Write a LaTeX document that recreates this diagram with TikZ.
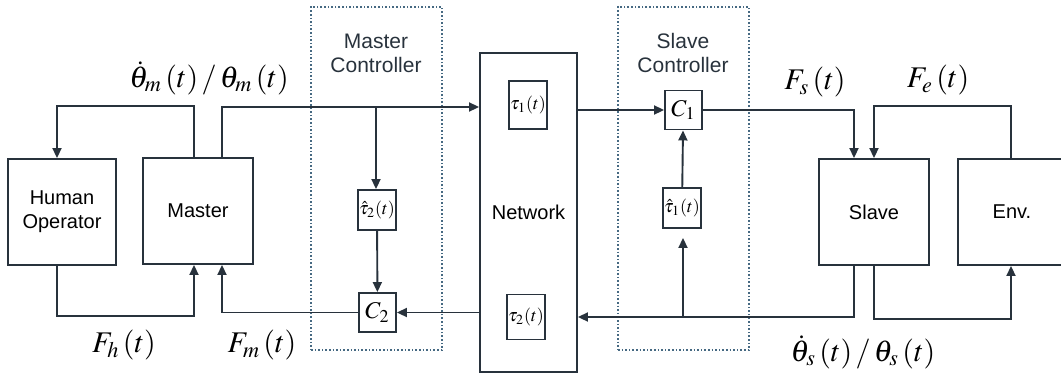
\documentclass[tikz,border=0pt]{standalone}
\usepackage{mathptmx}
\usepackage{fontspec}
\setmainfont{Liberation Sans}
\usetikzlibrary{arrows.meta, positioning, calc}
\definecolor{lnblue}{RGB}{40,50,60}
\definecolor{dotblue}{RGB}{70,105,130}

\begin{document}
\begin{tikzpicture}[x=0.5pt, y=-0.5pt,
  blk/.style={rectangle, draw=lnblue, fill=white, line width=0.95pt, minimum width=55pt, minimum height=53pt, align=center, font=\fontsize{10}{12}\selectfont, inner sep=0pt},
  dly/.style={rectangle, draw=lnblue, fill=white, line width=0.95pt, minimum width=19pt, inner sep=0pt, font=\fontsize{9}{10}\selectfont},
  ctl/.style={rectangle, draw=lnblue, fill=white, line width=0.95pt, minimum width=18.5pt, minimum height=19.5pt, inner sep=0pt, font=\fontsize{12}{14}\selectfont},
  grp/.style={rectangle, draw=dotblue, densely dotted, line width=0.8pt, minimum width=65.5pt, minimum height=171.5pt},
  grplbl/.style={align=center, font=\fontsize{10.5}{12}\selectfont, text=lnblue},
  arr/.style={-{Triangle[length=5pt, width=4.5pt]}, draw=lnblue, line width=0.95pt},
  sig/.style={font=\fontsize{15}{17}\selectfont}
]
\useasboundingbox (0,0) rectangle (1061,376);

% controller groups
\node[grp] (mcgrp) at (376.5,178.5) {};
\node[grp] (scgrp) at (683.5,178.5) {};
\node[grplbl] (mctxt) at (376,53) {Master\\Controller};
\node[grplbl] (sctxt) at (683,53) {Slave\\Controller};

% main blocks
\node[blk, minimum width=54pt] (human) at (62,212) {Human\\Operator};
\node[blk] (master) at (198,211) {Master};
\node[blk, minimum width=48.5pt, minimum height=159.5pt] (net) at (528.5,212.5) {Network};
\node[blk] (slave) at (874,212) {Slave};
\node[blk, minimum width=54pt] (env) at (1012,212) {Env.};

% delays and estimates
\node[dly, minimum height=24pt] (tau1) at (528,105) {$\tau_1(t)$};
\node[dly, minimum height=22.5pt] (tau2) at (526,317) {$\tau_2(t)$};
\node[dly, minimum height=20pt] (est2) at (377,210) {$\hat{\tau}_2(t)$};
\node[dly, minimum height=20pt] (est1) at (682,208) {$\hat{\tau}_1(t)$};
\node[ctl] (c2) at (377.5,312.5) {$C_2$};
\node[ctl] (c1) at (683.5,110) {$C_1$};

\coordinate (split) at (376,107);
\coordinate (back) at (683,317);

% master side
\draw[arr] ($(master.north)+(-4,0)$) -- ++(0,-51) -| ($(human.north)+(-5,0)$);
\draw[arr] ($(master.north)+(24,0)$) |- (split) -- (split -| net.west);
\draw[arr] (split) -- (split |- est2.north);
\draw[arr] (est2) -- (c2);
\draw[arr] (net.west |- c2) -- (c2);
\draw[arr] (c2.west) -| ($(master.south)+(24,0)$);
\draw[arr] ($(human.south)+(-5,0)$) -- ++(0,50) -| ($(master.south)+(-4,0)$);

% slave side
\draw[arr] (net.east |- c1) -- (c1);
\draw[arr] (c1.east) -| ($(slave.north)+(-20,0)$);
\draw[arr] ($(env.north)+(-1,0)$) -- ++(0,-52) -| (slave.north);
\draw[arr] ($(slave.south)+(-20,0)$) |- (back) -- (back -| net.east);
\draw[arr, shorten >=4.5pt] (back) -- (back |- est1.south);
\draw[arr] (est1) -- (back |- c1.south);
\draw[arr] (slave.south) -- ++(0,53) -| ($(env.south)+(-1,0)$);

% signal labels
\node[sig] (thm) at (209,78) {$\dot{\theta}_m\,(t)\,/\,\theta_m\,(t)$};
\node[sig] (fh) at (124,345) {$F_h\,(t)$};
\node[sig] (fm) at (262,345) {$F_m\,(t)$};
\node[sig] (fs) at (815,82) {$F_s\,(t)$};
\node[sig] (fe) at (938,80) {$F_e\,(t)$};
\node[sig] (ths) at (863,352) {$\dot{\theta}_s\,(t)\,/\,\theta_s\,(t)$};

\end{tikzpicture}
\end{document}
